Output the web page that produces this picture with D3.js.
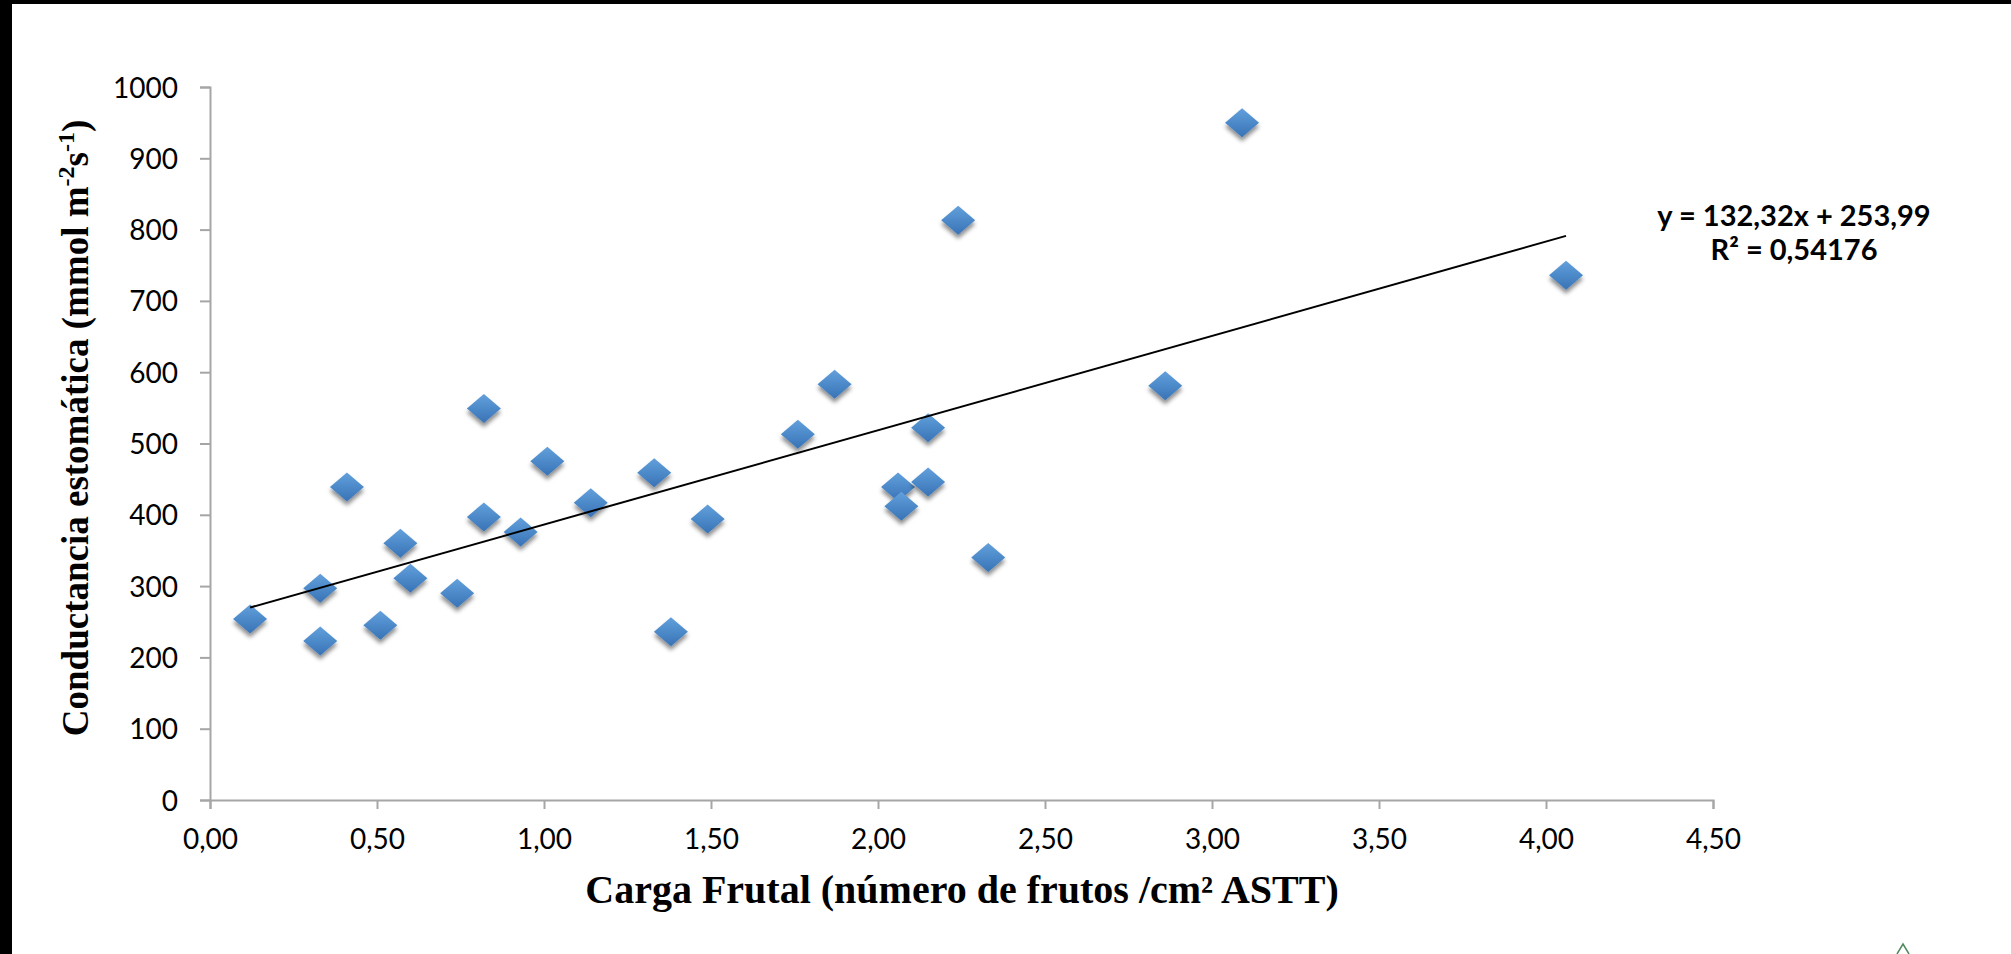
<!DOCTYPE html>
<html>
<head>
<meta charset="utf-8">
<script src="https://cdn.jsdelivr.net/npm/d3@7"></script>
<style>
  html, body { margin: 0; padding: 0; background: #fff; }
  svg { display: block; }
</style>
</head>
<body>
<script>
// ---- Data ----
const cargaFrutal = [0.12, 0.33, 0.33, 0.41, 0.51, 0.57, 0.60, 0.74, 0.82, 0.82, 0.93, 1.01, 1.14, 1.33, 1.38, 1.49, 1.76, 1.87, 2.06, 2.07, 2.15, 2.15, 2.24, 2.33, 2.86, 3.09, 4.06];
const conductancia = [254, 297, 223, 439, 245, 360, 311, 290, 549, 397, 376, 475, 417, 459, 236, 394, 513, 583, 439, 412, 522, 446, 813, 340, 581, 950, 736];
const xTicks = [0, 0.5, 1, 1.5, 2, 2.5, 3, 3.5, 4, 4.5];
const yTicks = [0, 100, 200, 300, 400, 500, 600, 700, 800, 900, 1000];
const trendCoef = [132.32, 253.99]; // slope, intercept
const equationLines = ["y = 132,32x + 253,99", "R² = 0,54176"];
const xTitle = "Carga Frutal (número de frutos /cm² ASTT)";

const W = 2011, H = 954;
const svg = d3.select("body").append("svg").attr("width", W).attr("height", H);

// frame (black bands at top and left of the reference picture)
svg.append("rect").attr("x", 0).attr("y", 0).attr("width", W).attr("height", H).attr("fill", "#fff");
svg.append("rect").attr("x", 0).attr("y", 0).attr("width", W).attr("height", 4).attr("fill", "#000");
svg.append("rect").attr("x", 0).attr("y", 0).attr("width", 12).attr("height", H).attr("fill", "#000");

const defs = svg.append("defs");
const grad = defs.append("linearGradient").attr("id", "mk").attr("x1", 0).attr("y1", 0).attr("x2", 0).attr("y2", 1);
grad.append("stop").attr("offset", "0%").attr("stop-color", "#62a0dc");
grad.append("stop").attr("offset", "100%").attr("stop-color", "#3873b6");
const flt = defs.append("filter").attr("id", "sh").attr("x", "-50%").attr("y", "-50%").attr("width", "200%").attr("height", "220%");
flt.append("feDropShadow").attr("dx", 0).attr("dy", 4).attr("stdDeviation", 2.2)
   .attr("flood-color", "#000").attr("flood-opacity", 0.45);

const x = d3.scaleLinear().domain([0, 4.5]).range([210, 1713]);
const y = d3.scaleLinear().domain([0, 1000]).range([800, 87]);

const tickFont = "Lato, 'Open Sans', sans-serif";

// Y axis
const yAxis = d3.axisLeft(y).tickValues(yTicks).tickSize(10).tickPadding(22).tickFormat(d3.format("d"));
const gy = svg.append("g").attr("transform", `translate(${x(0)},0)`).call(yAxis);
gy.select(".domain").attr("stroke", "#a6a6a6").attr("stroke-width", 2);
gy.selectAll(".tick line").attr("stroke", "#a6a6a6").attr("stroke-width", 2);
gy.selectAll(".tick text").attr("font-family", tickFont).attr("font-size", 28).attr("fill", "#000").attr("dy", "0.36em");

// X axis
const fmtX = d => d3.format(".2f")(d).replace(".", ",");
const xAxis = d3.axisBottom(x).tickValues(xTicks).tickSize(9).tickPadding(20).tickFormat(fmtX);
const gx = svg.append("g").attr("transform", `translate(0,${y(0)})`).call(xAxis);
gx.select(".domain").attr("stroke", "#a6a6a6").attr("stroke-width", 2);
gx.selectAll(".tick line").attr("stroke", "#a6a6a6").attr("stroke-width", 2);
gx.selectAll(".tick text").attr("font-family", tickFont).attr("font-size", 28).attr("fill", "#000");

// Markers (wide diamonds)
const wideDiamond = {
  draw(ctx, size) {
    const w = 17, h = 14.5;
    ctx.moveTo(0, -h); ctx.lineTo(w, 0); ctx.lineTo(0, h); ctx.lineTo(-w, 0); ctx.closePath();
  }
};
const pts = cargaFrutal.map((v, i) => ({ x: v, y: conductancia[i] }));
svg.append("g").selectAll("path").data(pts).join("path")
  .attr("d", d3.symbol().type(wideDiamond).size(1))
  .attr("transform", d => `translate(${x(d.x)},${y(d.y)})`)
  .attr("fill", "url(#mk)")
  .attr("filter", "url(#sh)");

// Trend line
const xr = d3.extent(cargaFrutal);
const trend = xr.map(v => ({ x: v, y: trendCoef[0] * v + trendCoef[1] }));
svg.append("path").datum(trend)
  .attr("d", d3.line().x(d => x(d.x)).y(d => y(d.y)))
  .attr("stroke", "#000").attr("stroke-width", 2).attr("fill", "none");

// Equation text
const eq = svg.append("text").attr("font-family", tickFont).attr("font-weight", 700)
  .attr("font-size", 29).attr("text-anchor", "middle").attr("fill", "#000");
eq.selectAll("tspan").data(equationLines).join("tspan")
  .attr("x", 1794).attr("y", (d, i) => 226 + i * 34).text(d => d);

// Axis titles
svg.append("text")
  .attr("x", 962).attr("y", 903)
  .attr("text-anchor", "middle")
  .attr("font-family", "'Liberation Serif', 'Times New Roman', serif")
  .attr("font-weight", 700).attr("font-size", 40).attr("fill", "#000")
  .text(xTitle);

const yt = svg.append("text")
  .attr("transform", "translate(88,428) rotate(-90)")
  .attr("text-anchor", "middle")
  .attr("font-family", "'Liberation Serif', 'Times New Roman', serif")
  .attr("font-weight", 700).attr("font-size", 37).attr("fill", "#000");
yt.append("tspan").text("Conductancia estomática (mmol m");
yt.append("tspan").attr("font-size", 24).attr("dy", -14).text("-2");
yt.append("tspan").attr("dy", 14).text("s");
yt.append("tspan").attr("font-size", 24).attr("dy", -14).text("-1");
yt.append("tspan").attr("dy", 14).text(")");

// small green caret at bottom right of the reference
svg.append("path")
  .attr("d", "M1897,954 L1903,944 L1909,954")
  .attr("stroke", "#4e8a5c").attr("stroke-width", 1.5).attr("fill", "none");
</script>
</body>
</html>
